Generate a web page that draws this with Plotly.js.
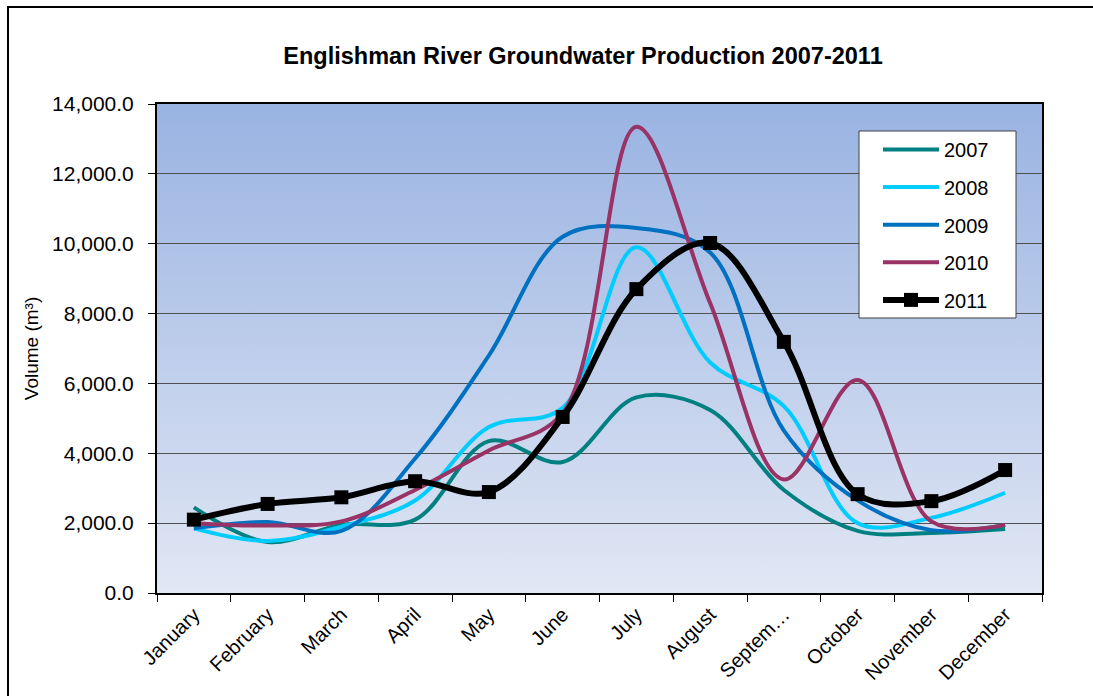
<!DOCTYPE html>
<html>
<head>
<meta charset="utf-8">
<script src="https://cdn.plot.ly/plotly-3.0.1.min.js"></script>
<style>html,body{margin:0;padding:0;background:#fff;}#chart{width:1093px;height:696px;}</style>
</head>
<body>
<div id="chart"></div>
<script>
var months = ["January","February","March","April","May","June","July","August","September","October","November","December"];
var tickLabels = ["January","February","March","April","May","June","July","August","Septem…","October","November","December"];
var seriesNames = ["2007","2008","2009","2010","2011"];
var v2007 = [2450, 1460, 1950, 2100, 4350, 3750, 5600, 5240, 2950, 1780, 1720, 1830];
var v2008 = [1850, 1490, 1900, 2650, 4750, 5300, 9900, 6600, 5350, 2000, 2150, 2870];
var v2009 = [1850, 2030, 1780, 3850, 6800, 10200, 10450, 9750, 4650, 2650, 1800, 1950];
var v2010 = [2000, 1930, 2050, 2950, 4080, 5150, 13350, 8300, 3250, 6100, 2050, 1950];
var v2011 = [2100, 2550, 2740, 3200, 2890, 5040, 8700, 10020, 7190, 2830, 2630, 3520];
var colors = ["#008080", "#00CCFF", "#0070C0", "#993366", "#000000"];

var L = 157, R = 1042, T = 104, B = 593, W = 1093, H = 696;
function px(x){ return (x - L) / (R - L); }
function py(y){ return (B - y) / (B - T); }

var vals = [v2007, v2008, v2009, v2010, v2011];
var traces = vals.map(function(v, i){
  var t = {
    x: months, y: v, name: seriesNames[i], type: "scatter",
    mode: i === 4 ? "lines+markers" : "lines",
    line: {color: colors[i], width: i === 4 ? 6 : 4, shape: "spline", smoothing: 1},
    legendgroup: "g" + i,
    hoverinfo: "x+y+name"
  };
  if (i === 4) t.marker = {symbol: "square", size: 14, color: "#000000"};
  return t;
});

var gradSvg = '<svg xmlns="http://www.w3.org/2000/svg" width="100" height="100" preserveAspectRatio="none"><defs><linearGradient id="g" x1="0" y1="0" x2="0" y2="1"><stop offset="0" stop-color="#99B3E2"/><stop offset="1" stop-color="#E1E7F4"/></linearGradient></defs><rect width="100" height="100" fill="url(#g)"/></svg>';
var gradUri = "data:image/svg+xml;charset=utf-8," + encodeURIComponent(gradSvg);

var font = "Liberation Sans, Arial, sans-serif";
var layout = {
  width: W, height: H,
  margin: {l: L, r: W - R, t: T, b: H - B},
  paper_bgcolor: "#ffffff",
  plot_bgcolor: "rgba(0,0,0,0)",
  font: {family: font, size: 20, color: "#000000"},
  title: {text: "<b>Englishman River Groundwater Production 2007-2011</b>", font: {family: font, size: 23.5, color: "#000000"},
          xref: "container", x: 583 / W, xanchor: "center", yref: "container", y: 1 - 56 / H, yanchor: "middle"},
  xaxis: {
    type: "category", range: [-0.5, 11.5], tickvals: months, ticktext: tickLabels,
    tickangle: -45, ticks: "outside", tickson: "boundaries", ticklen: 7, tickcolor: "#000000",
    showline: true, linecolor: "#000000", linewidth: 2, mirror: true, showgrid: false,
    tickfont: {family: font, size: 20, color: "#000000"}, automargin: false, fixedrange: true
  },
  yaxis: {
    range: [0, 14000], dtick: 2000, tickformat: ",.1f", ticks: "outside", ticklen: 7, tickcolor: "#000000",
    showline: true, linecolor: "#000000", linewidth: 2, mirror: true,
    showgrid: true, gridcolor: "#505050", gridwidth: 1, zeroline: false,
    tickfont: {family: font, size: 21, color: "#000000"}, ticklabelstandoff: 10,
    title: {text: "Volume (m³)", font: {family: font, size: 19, color: "#000000"}, standoff: 8},
    automargin: false, fixedrange: true
  },
  showlegend: true,
  legend: {
    x: px(878), y: py(130), xanchor: "left", yanchor: "top",
    bgcolor: "rgba(0,0,0,0)", borderwidth: 0, itemwidth: 56,
    traceorder: "grouped", tracegroupgap: 8.6,
    font: {family: font, size: 20, color: "#000000"}
  },
  images: [{source: gradUri, xref: "paper", yref: "paper", x: 0, y: 1, sizex: 1, sizey: 1,
            sizing: "stretch", xanchor: "left", yanchor: "top", layer: "below"}],
  shapes: [
    {type: "rect", xref: "paper", yref: "paper", x0: px(8), x1: px(1110), y0: py(7), y1: py(720),
     line: {color: "#000000", width: 2}, fillcolor: "rgba(0,0,0,0)", layer: "above"},
    {type: "rect", xref: "paper", yref: "paper", x0: px(859), x1: px(1016), y0: py(131), y1: py(318),
     line: {color: "#404040", width: 1}, fillcolor: "#ffffff", layer: "above"}
  ]
};

Plotly.newPlot("chart", traces, layout, {displayModeBar: false, staticPlot: true});
</script>
</body>
</html>
